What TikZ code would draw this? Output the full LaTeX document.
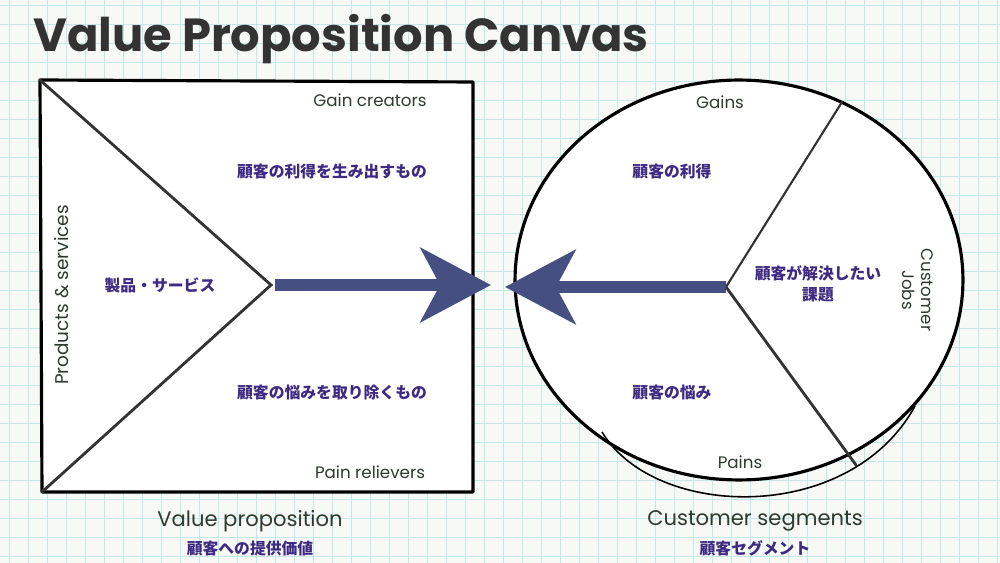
\documentclass[tikz,border=0pt]{standalone}
\usepackage{fontspec}
\usetikzlibrary{positioning,arrows.meta}
\newfontfamily\titlefont{Poppins}
\newfontfamily\handfont{Poppins}
\newfontfamily\jpfont{Noto Sans CJK JP}
\definecolor{paper}{HTML}{F7F9F7}
\definecolor{gridcyan}{HTML}{C4E8E8}
\definecolor{inkgray}{HTML}{333333}
\definecolor{handink}{HTML}{2E3B2E}
\definecolor{jpviolet}{HTML}{3E2A82}
\definecolor{arrowblue}{HTML}{464F82}
\tikzset{
  gridline/.style={gridcyan, line width=0.4pt},
  frame/.style={draw=black, line width=1.8pt, fill=white, line join=round},
  spoke/.style={black!80, line width=1.2pt, line cap=round},
  fatarrow/.style={arrowblue, line width=7pt, -{Stealth[length=40pt, width=42pt, inset=11pt]}},
  hand/.style={font=\handfont\fontsize{9.5}{11}\selectfont, text=handink, inner sep=1pt},
  jp/.style={font=\jpfont\bfseries\fontsize{9}{12}\selectfont, text=jpviolet, inner sep=1pt, align=center},
}

\begin{document}
\begin{tikzpicture}[x=0.02cm, y=-0.02cm]
    \useasboundingbox (0,0) rectangle (1000,563);
    % squared paper
    \fill[paper] (0,0) rectangle (1000,563);
    \foreach \gx in {9,28,...,1000} \draw[gridline] (\gx,0) -- (\gx,563);
    \foreach \gy in {5,24,...,563} \draw[gridline] (0,\gy) -- (1000,\gy);

    \node[anchor=base west, font=\titlefont\bfseries\fontsize{26.4}{30}\selectfont, text=inkgray, inner sep=0] (title) at (33,52) {Value Proposition Canvas};

    % value proposition square
    \coordinate (vpNW) at (40,80);
    \coordinate (vpNE) at (473,82);
    \coordinate (vpSE) at (473,492);
    \coordinate (vpSW) at (42,492);
    \coordinate (vpApex) at (271,285);
    \draw[frame] (vpNW) -- (vpNE) -- (vpSE) -- (vpSW) -- cycle;
    \draw[spoke, line width=1.6pt] (vpNW) -- (vpApex) -- (vpSW);

    % customer segment circle
    \coordinate (csCentre) at (739,280);
    \draw[frame] (csCentre) ellipse [x radius=4.48cm, y radius=4cm];
    \draw[black, line width=0.9pt] (602,432) .. controls (655,520) and (850,525) .. (915,406);
    \coordinate (csHub) at (726,287);
    \coordinate (csTop) at (842,102);
    \coordinate (csBot) at (856,465);
    \draw[spoke] (csTop) -- (csHub);
    \draw[spoke, line width=1.6pt] (csHub) -- (csBot);

    % fit arrows
    \coordinate (vpTip) at (491,285);
    \coordinate (csTip) at (505,287);
    \draw[fatarrow, shorten <=2pt] (vpApex) -- (vpTip);
    \draw[fatarrow] (csHub) -- (csTip);

    \node[hand] (gainCre) at (370,100) {Gain creators};
    \node[jp] (gainCreJp) at (332,172) {顧客の利得を生み出すもの};
    \node[jp] (prodJp) at (160,285) {製品・サービス};
    \node[hand, rotate=90, font=\handfont\fontsize{10.5}{12}\selectfont] (prodLbl) at (62,295) {Products \& services};
    \node[jp] (painRelJp) at (332,393) {顧客の悩みを取り除くもの};
    \node[hand] (painRel) at (370,472) {Pain relievers};

    \node[hand] (gains) at (720,102) {Gains};
    \node[jp] (gainsJp) at (672,172) {顧客の利得};
    \node[jp] (jobsJp) at (818,284) {顧客が解決したい\\課題};
    \node[hand, rotate=-90, align=center] (jobsLbl) at (918,290) {Customer\\Jobs};
    \node[jp] (painsJp) at (672,393) {顧客の悩み};
    \node[hand] (pains) at (740,462) {Pains};

    \node[hand, font=\handfont\fontsize{12}{14}\selectfont] (vpName) at (250,521) {Value proposition};
    \node[jp] (vpNameJp) [below=3pt of vpName] {顧客への提供価値};
    \node[hand, font=\handfont\fontsize{12}{14}\selectfont] (csName) at (755,521) {Customer segments};
    \node[jp] (csNameJp) [below=3pt of csName] {顧客セグメント};
\end{tikzpicture}
\end{document}
